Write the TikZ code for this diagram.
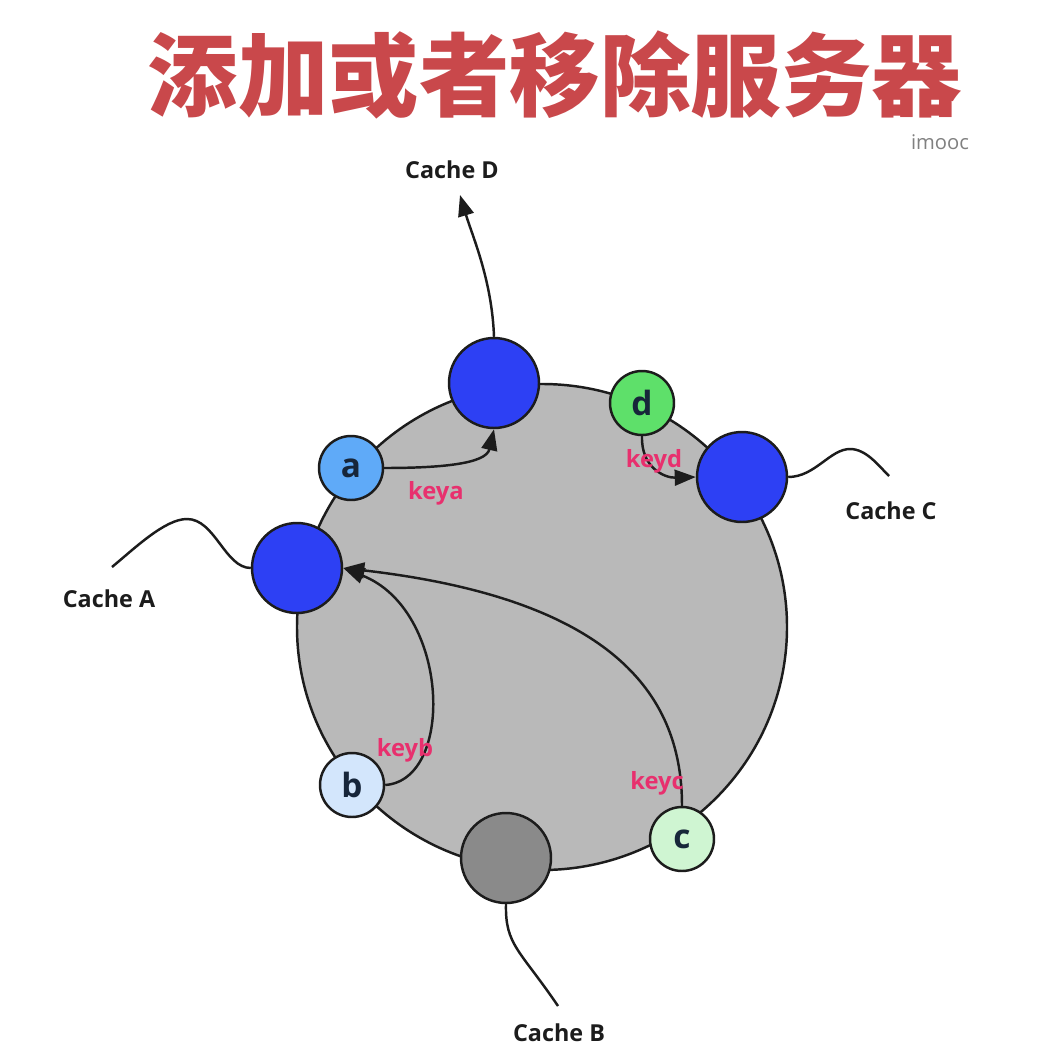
\documentclass[tikz,border=0pt]{standalone}
\usepackage{fontspec}
\setmainfont{Open Sans}
\newfontfamily\cjk{Noto Sans CJK SC}
\usetikzlibrary{arrows.meta}
\definecolor{srvblue}{HTML}{2D40F4}
\definecolor{ringgray}{HTML}{B9B9B9}
\definecolor{srvgray}{HTML}{8A8A8A}
\definecolor{keyA}{HTML}{5FAAF8}
\definecolor{keyB}{HTML}{D3E6FC}
\definecolor{keyC}{HTML}{CFF5D2}
\definecolor{keyD}{HTML}{5EE06A}
\definecolor{titlered}{HTML}{C9484B}
\definecolor{keypink}{HTML}{E8306E}
\definecolor{outline}{HTML}{1C1C1C}
\definecolor{lettercol}{HTML}{17263A}
\begin{document}
\begin{tikzpicture}[x=0.02cm,y=-0.02cm,
  server/.style={circle,draw=outline,line width=1.4pt,minimum size=1.8cm,inner sep=0pt},
  keynode/.style={circle,draw=outline,line width=1.4pt,minimum size=1.28cm,inner sep=0pt,
    font=\fontsize{19}{20}\selectfont\bfseries,text=lettercol},
  cachelbl/.style={font=\fontsize{13.3}{15}\selectfont\bfseries,text=outline},
  keylbl/.style={font=\fontsize{13.5}{15}\selectfont\bfseries,text=keypink},
  wire/.style={draw=outline,line width=1.4pt},
  arr/.style={wire,-{Triangle[length=12pt,width=9pt]}}]
\useasboundingbox (0,0) rectangle (1044,1061);
\fill[white] (0,0) rectangle (1044,1061);
% title
\node[font=\cjk\fontsize{51.5}{56}\selectfont\bfseries,text=titlered] (title) at (555,75) {添加或者移除服务器};
\node[font=\fontsize{11.5}{13}\selectfont,text=black!50] (imooc) at (940,142) {imooc};
% ring
\draw[draw=outline,line width=1.4pt,fill=ringgray] (542,627) ellipse [x radius=245,y radius=243];
% servers
\node[server,fill=srvblue] (D) at (494,383) {};
\node[server,fill=srvblue] (C) at (742,477) {};
\node[server,fill=srvblue] (A) at (297,568) {};
\node[server,fill=srvgray] (B) at (506,858) {};
% keys
\node[keynode,fill=keyA] (a) at (351,468) {a};
\node[keynode,fill=keyB] (b) at (352,785) {b};
\node[keynode,fill=keyC] (c) at (682,839) {c};
\node[keynode,fill=keyD] (d) at (642,403) {d};
% labels
\node[cachelbl] (lD) at (452,170) {Cache D};
\node[cachelbl] (lC) at (891,511) {Cache C};
\node[cachelbl] (lA) at (109,599) {Cache A};
\node[cachelbl] (lB) at (559,1033) {Cache B};
\coordinate (tD) at (460,195);
\coordinate (tC) at (889,476);
\coordinate (tA) at (112,567);
\coordinate (tB) at (558,1006);
% cache connectors
\draw[arr] (D.north) .. controls (492,280) and (472,235) .. (tD);
\draw[wire] (C.east) .. controls (815,477) and (830,449) .. (850,449) .. controls (866,449) and (878,465) .. (tC);
\draw[wire] (A.west) .. controls (225,568) and (215,519) .. (187,519) .. controls (165,519) and (135,548) .. (tA);
\draw[wire] (B.south) .. controls (505,945) and (520,950) .. (tB);
% key arrows
\draw[arr] (a.east) .. controls (440,468) and (486,464) .. (D.south);
\draw[arr] (d.south) .. controls (641,468) and (665,478) .. (C.west);
\draw[arr] (b.east) .. controls (455,780) and (450,610) .. (A.east);
\draw[arr] (c.north) .. controls (682,700) and (620,600) .. (A.east);
% key labels
\node[keylbl] (ka) at (436,493) {keya};
\node[keylbl] (kd) at (654,461) {keyd};
\node[keylbl] (kb) at (405,750) {keyb};
\node[keylbl] (kc) at (657,783) {keyc};
\end{tikzpicture}
\end{document}
